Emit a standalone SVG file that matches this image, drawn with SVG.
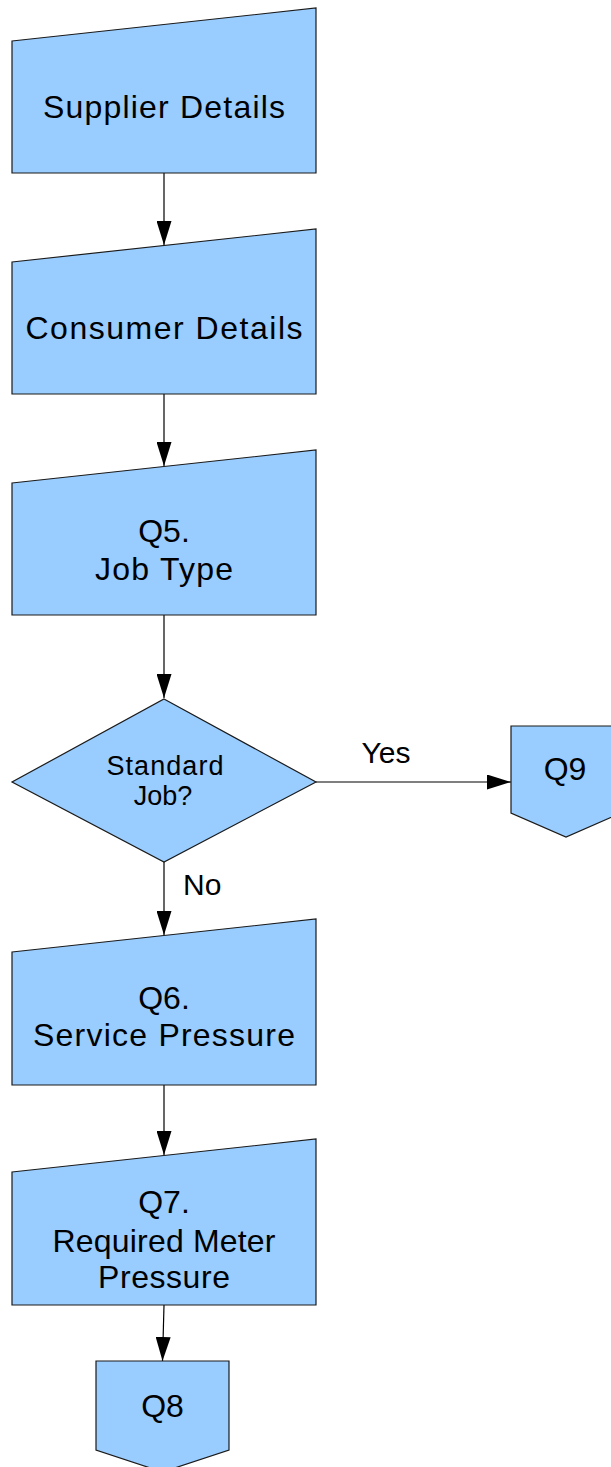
<svg xmlns="http://www.w3.org/2000/svg" width="611" height="1467" viewBox="0 0 611 1467">
<style>
.shape{fill:#99ccff;stroke:#1a1a1a;stroke-width:1.2}
.t{font-family:"Liberation Sans",Arial,sans-serif;font-size:32px;fill:#000;text-anchor:middle}
.d{font-family:"Liberation Sans",Arial,sans-serif;font-size:27px;fill:#000;text-anchor:middle}
.lbl{font-family:"Liberation Sans",Arial,sans-serif;font-size:30px;fill:#000}
.c{fill:none;stroke:#000;stroke-width:1.2}
</style>
<defs>
<marker id="arr" markerUnits="userSpaceOnUse" markerWidth="24" markerHeight="15" refX="24" refY="7.5" orient="auto">
<path d="M0,0 L24,7.5 L0,15 z" fill="#000"/>
</marker>
</defs>
<rect width="611" height="1467" fill="#fff"/>
<g id="connectors">
<path class="c" d="M164,173 L164,245" marker-end="url(#arr)"/>
<path class="c" d="M164,394 L164,466" marker-end="url(#arr)"/>
<path class="c" d="M164,615 L164,698" marker-end="url(#arr)"/>
<path class="c" d="M316,782 L511,782" marker-end="url(#arr)"/>
<path class="c" d="M164,862 L164,935" marker-end="url(#arr)"/>
<path class="c" d="M164,1085 L164,1155" marker-end="url(#arr)"/>
<path class="c" d="M164,1305 L162.5,1361" marker-end="url(#arr)"/>
<text class="lbl" x="386" y="763" text-anchor="middle">Yes</text>
<text class="lbl" x="183" y="895">No</text>
</g>
<g id="supplier">
<path class="shape" d="M12,41 L316,8 L316,173 L12,173 z"/>
<text class="t" x="164" y="118" textLength="242">Supplier Details</text>
</g>
<g id="consumer">
<path class="shape" d="M12,262 L316,229 L316,394 L12,394 z"/>
<text class="t" x="164" y="339" textLength="277">Consumer Details</text>
</g>
<g id="q5">
<path class="shape" d="M12,483 L316,450 L316,615 L12,615 z"/>
<text class="t" x="164" y="541.5">Q5.</text>
<text class="t" x="164" y="579.5" textLength="138">Job Type</text>
</g>
<g id="decision">
<path class="shape" d="M164,699 L316,782 L164,862 L12,782 z"/>
<text class="d" x="165" y="775" textLength="117">Standard</text>
<text class="d" x="163" y="805">Job?</text>
</g>
<g id="q9">
<path class="shape" d="M511,726 L621,726 L621,813 L566,837 L511,813 z"/>
<text class="t" x="565" y="780">Q9</text>
</g>
<g id="q6">
<path class="shape" d="M12,952 L316,919 L316,1085 L12,1085 z"/>
<text class="t" x="164" y="1009">Q6.</text>
<text class="t" x="164" y="1046" textLength="262">Service Pressure</text>
</g>
<g id="q7">
<path class="shape" d="M12,1172 L316,1139 L316,1305 L12,1305 z"/>
<text class="t" x="164" y="1213">Q7.</text>
<text class="t" x="164" y="1251.5" textLength="223">Required Meter</text>
<text class="t" x="164" y="1288" textLength="132">Pressure</text>
</g>
<g id="q8">
<path class="shape" d="M96,1361 L229,1361 L229,1450 L162.5,1472 L96,1450 z"/>
<text class="t" x="162.5" y="1417">Q8</text>
</g>
</svg>
